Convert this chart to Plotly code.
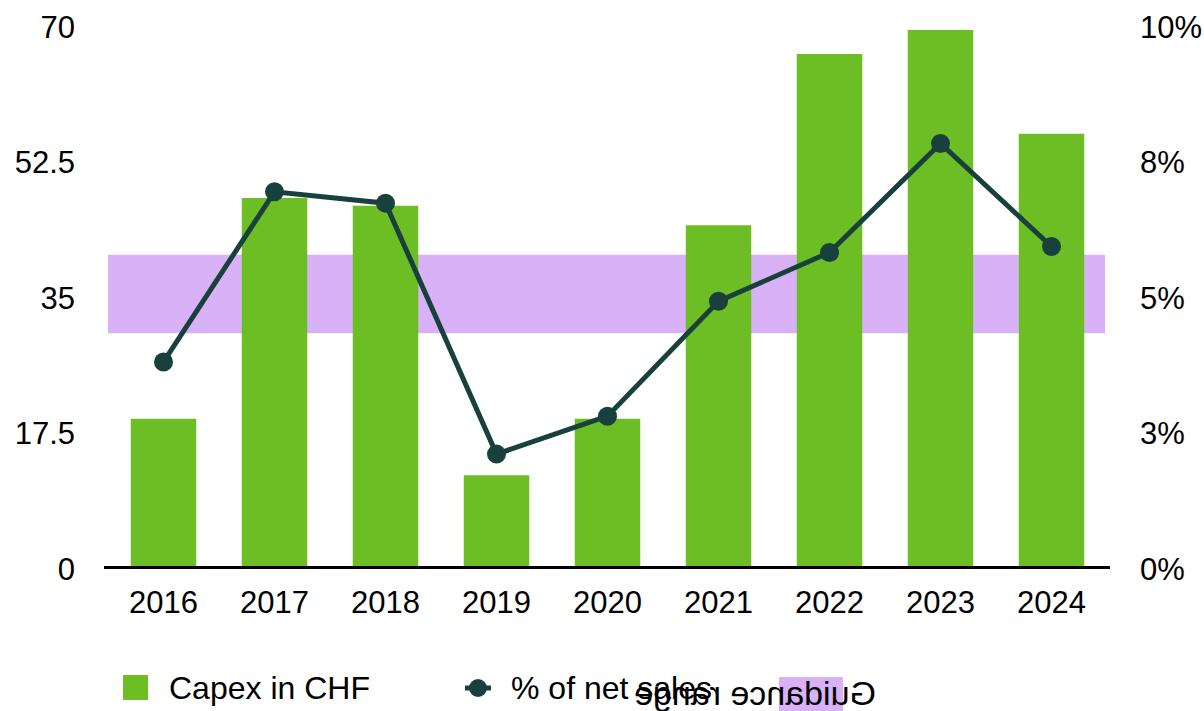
import plotly.graph_objects as go

# ---- data -------------------------------------------------------------
years = ["2016", "2017", "2018", "2019", "2020", "2021", "2022", "2023", "2024"]
capex_chf = [19.4, 47.9, 46.9, 12.1, 19.4, 44.4, 66.5, 69.6, 56.2]
pct_net_sales = [3.82, 6.96, 6.75, 2.12, 2.82, 4.94, 5.84, 7.85, 5.95]
guidance_low, guidance_high = 4.35, 5.8

left_ticks = [0, 17.5, 35, 52.5, 70]
left_ticktext = ["0", "17.5", "35", "52.5", "70"]
right_ticks = [0, 2.5, 5, 7.5, 10]
right_ticktext = ["0%", "3%", "5%", "8%", "10%"]

# ---- styling ----------------------------------------------------------
GREEN = "#6dbe25"
TEAL = "#18413d"
LILAC = "#d9b1f6"
FONT = "Liberation Sans, Arial, Helvetica, sans-serif"
FS = 31
LEG_FS = 32
W, H = 1204, 711
ML, MR, MT, MB = 108, 97, 27, 142
PW, PH = W - ML - MR, H - MT - MB


def px_x(px):
    return (px - ML) / PW


def px_y(py):
    return (H - MB - py) / PH


fig = go.Figure()

fig.add_trace(go.Bar(
    x=years, y=capex_chf, name="Capex in CHF",
    marker=dict(color=GREEN, line=dict(width=0)),
    showlegend=False,
))

fig.add_trace(go.Scatter(
    x=years, y=pct_net_sales, name="% of net sales", yaxis="y2",
    mode="lines+markers",
    line=dict(color=TEAL, width=5),
    marker=dict(color=TEAL, size=19),
    showlegend=False,
))

shapes = [
    # guidance band on the percentage axis
    dict(type="rect", xref="paper", yref="y2", x0=0, x1=px_x(1105),
         y0=guidance_low, y1=guidance_high,
         fillcolor=LILAC, line=dict(width=0), layer="below"),
    # baseline
    dict(type="line", xref="paper", yref="y", x0=px_x(104), x1=px_x(1110),
         y0=0, y1=0, line=dict(color="black", width=6), layer="above"),
    # legend swatches
    dict(type="rect", xref="paper", yref="paper",
         x0=px_x(123), x1=px_x(148), y0=px_y(700), y1=px_y(675),
         fillcolor=GREEN, line=dict(width=0)),
    dict(type="line", xref="paper", yref="paper",
         x0=px_x(465), x1=px_x(491), y0=px_y(688), y1=px_y(688),
         line=dict(color=TEAL, width=5)),
    dict(type="circle", xref="paper", yref="paper",
         x0=px_x(469), x1=px_x(487), y0=px_y(697), y1=px_y(679),
         fillcolor=TEAL, line=dict(width=0)),
    dict(type="rect", xref="paper", yref="paper",
         x0=px_x(779), x1=px_x(843), y0=px_y(711), y1=px_y(677),
         fillcolor=LILAC, line=dict(width=0)),
]

annotations = [
    dict(text="Capex in CHF", x=px_x(167), y=px_y(688), size=LEG_FS),
    dict(text="% of net sales", x=px_x(509), y=px_y(688), size=LEG_FS),
    dict(text="Guidance range", x=px_x(632), y=px_y(693), size=34),
]
for a in annotations:
    size = a.pop("size")
    a.update(xref="paper", yref="paper", xanchor="left", yanchor="middle",
             showarrow=False, font=dict(size=size, color="black", family=FONT))

fig.update_layout(
    width=W, height=H,
    margin=dict(l=ML, r=MR, t=MT, b=MB),
    paper_bgcolor="white", plot_bgcolor="white",
    font=dict(family=FONT, size=FS, color="black"),
    bargap=0.41,
    shapes=shapes,
    annotations=annotations,
    showlegend=False,
    xaxis=dict(showgrid=False, showline=False, zeroline=False, automargin=False,
               range=[-0.5, 8.5], ticks="", tickfont=dict(size=FS),
               ticklabelstandoff=12),
    yaxis=dict(range=[0, 70], tickvals=left_ticks, ticktext=left_ticktext,
               showgrid=False, zeroline=False, showline=False, ticks="",
               automargin=False, tickfont=dict(size=FS), ticklabelstandoff=32),
    yaxis2=dict(range=[0, 10], tickvals=right_ticks, ticktext=right_ticktext,
                overlaying="y", side="right", automargin=False,
                showgrid=False, zeroline=False, showline=False, ticks="",
                tickfont=dict(size=FS), ticklabelstandoff=32),
)

# the "Guidance range" label is drawn mirrored horizontally
flip_js = """
var gd = document.getElementById('{plot_id}');
function flipLabel() {
  gd.querySelectorAll('.annotation text').forEach(function (t) {
    if (t.textContent === 'Guidance range') {
      t.removeAttribute('transform');
      var b = t.getBBox();
      var cx = b.x + b.width / 2;
      t.setAttribute('transform', 'translate(' + (2 * cx) + ',0) scale(-1,1)');
    }
  });
}
flipLabel();
gd.on('plotly_afterplot', flipLabel);
"""

fig.write_html("out.html", post_script=flip_js)
